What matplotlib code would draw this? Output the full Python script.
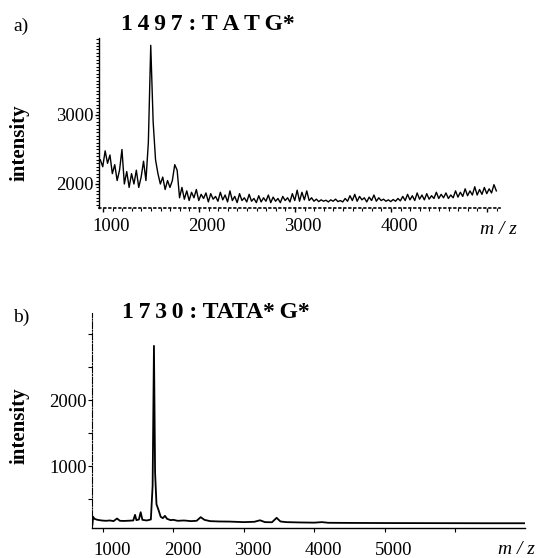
import numpy as np
import matplotlib
matplotlib.use("Agg")
import matplotlib.pyplot as plt
from matplotlib.ticker import MultipleLocator
from matplotlib.transforms import ScaledTranslation

plt.rcParams['font.family'] = ['Liberation Serif', 'DejaVu Serif']

# === spectrum a) 1497 : TATG* (m/z grid, 25 units step) ===
mz_a = np.arange(972, 5100, 25)
int_a = [
    2350, 2250, 2480, 2300, 2420, 2150, 2280, 2050, 2200, 2500,
    2000, 2180, 1950, 2150, 2000, 2200, 1950, 2100, 2330, 2050,
    2600, 4010, 2900, 2350, 2150, 2000, 2100, 1920, 2050, 1950,
    2050, 2280, 2200, 1800, 1950, 1780, 1900, 1760, 1880, 1800,
    1920, 1760, 1850, 1790, 1870, 1740, 1860, 1780, 1820, 1750,
    1880, 1770, 1840, 1740, 1900, 1760, 1820, 1730, 1860, 1760,
    1800, 1740, 1850, 1750, 1790, 1730, 1830, 1740, 1800, 1750,
    1840, 1730, 1810, 1750, 1790, 1730, 1820, 1760, 1800, 1740,
    1860, 1760, 1910, 1750, 1880, 1770, 1900, 1760, 1800, 1750,
    1780, 1745, 1770, 1750, 1765, 1740, 1770, 1750, 1780, 1745,
    1760, 1740, 1790, 1750, 1830, 1760, 1850, 1750, 1820, 1770,
    1800, 1740, 1810, 1760, 1840, 1750, 1800, 1760, 1780, 1750,
    1770, 1745, 1775, 1750, 1790, 1755, 1820, 1760, 1850, 1770,
    1830, 1760, 1870, 1780, 1840, 1770, 1860, 1780, 1830, 1790,
    1880, 1790, 1850, 1800, 1870, 1790, 1840, 1800, 1900, 1810,
    1880, 1820, 1930, 1830, 1900, 1840, 1960, 1840, 1920, 1850,
    1950, 1860, 1930, 1870, 1990, 1900,
]

# === spectrum b) 1730 : TATA*G* ===
mz_b = [850, 860, 880, 920, 980, 1040, 1100, 1150, 1200, 1240,
        1300, 1380, 1430, 1455, 1475, 1510, 1535, 1560, 1620, 1680,
        1705, 1724, 1740, 1760, 1790, 1820, 1850, 1880, 1910, 1960,
        2000, 2060, 2150, 2250, 2330, 2388, 2440, 2520, 2650, 2800,
        3000, 3150, 3230, 3300, 3400, 3466, 3520, 3600, 3800, 4000,
        4110, 4200, 4500, 5000, 5500, 6000, 6500, 6990]
int_b = [110, 230, 200, 185, 175, 170, 175, 165, 205, 170,
         168, 172, 175, 260, 180, 190, 300, 185, 175, 190,
         700, 2820, 900, 420, 330, 230, 210, 245, 200, 180,
         185, 170, 175, 165, 170, 225, 185, 165, 160, 158,
         150, 155, 178, 150, 148, 215, 160, 150, 145, 142,
         150, 140, 138, 136, 135, 134, 133, 133]

xticks_a = [1000, 2000, 3000, 4000, 5000]
xlabels_a = ['1000', '2000', '3000', '4000', '']
yticks_a = [2000, 3000]
xticks_b = [1000, 2000, 3000, 4000, 5000, 6000]
xlabels_b = ['1000', '2000', '3000', '4000', '5000', '']
yticks_b = [1000, 2000]

W, H = 539, 558
fig = plt.figure(figsize=(W / 100, H / 100), dpi=100)


def px_rect(left, top, right, bottom):
    return [left / W, 1 - bottom / H, (right - left) / W, (bottom - top) / H]


def shift_xlabels(ax, dx):
    off = ScaledTranslation(dx / 100, 0, fig.dpi_scale_trans)
    for lab in ax.get_xticklabels():
        lab.set_transform(lab.get_transform() + off)


# --- panel a ---
ax1 = fig.add_axes(px_rect(99, 38, 500, 208))
ax1.plot(mz_a, int_a, color='black', lw=1.0)
ax1.set_xlim(958, 5135)
ax1.set_ylim(1652, 4116)
for s in ['top', 'right']:
    ax1.spines[s].set_visible(False)
ax1.spines['bottom'].set_linestyle((0, (1, 2)))
ax1.spines['bottom'].set_linewidth(1.2)
ax1.spines['left'].set_linewidth(1.0)
ax1.set_xticks(xticks_a)
ax1.set_xticklabels(xlabels_a)
ax1.xaxis.set_minor_locator(MultipleLocator(100))
ax1.set_yticks(yticks_a)
ax1.yaxis.set_minor_locator(MultipleLocator(50))
ax1.tick_params(axis='both', which='major', direction='out', length=3,
                width=1, labelsize=13.5)
ax1.tick_params(axis='both', which='minor', direction='out', length=2, width=0.8)
ax1.tick_params(axis='x', pad=4)
ax1.tick_params(axis='y', pad=1)
shift_xlabels(ax1, 8)

# --- panel b ---
ax2 = fig.add_axes(px_rect(92, 313, 525, 528))
ax2.plot(mz_b, int_b, color='black', lw=1.3)
ax2.set_xlim(844, 6994)
ax2.set_ylim(61, 3318)
for s in ['top', 'right']:
    ax2.spines[s].set_visible(False)
ax2.spines['left'].set_linestyle((0, (6, 1.5, 1, 1.5)))
ax2.spines['left'].set_linewidth(0.8)
ax2.spines['bottom'].set_linewidth(1.0)
ax2.set_xticks(xticks_b)
ax2.set_xticklabels(xlabels_b)
ax2.set_yticks(yticks_b)
ax2.yaxis.set_minor_locator(MultipleLocator(500))
ax2.tick_params(axis='both', which='major', direction='out', length=3,
                width=0.8, labelsize=13.5)
ax2.tick_params(axis='both', which='minor', direction='out', length=3, width=0.8)
ax2.tick_params(axis='x', pad=7)
ax2.tick_params(axis='y', pad=1)
shift_xlabels(ax2, 9)

# --- texts ---
ts = '\u2009'
fig.text(13 / W, 1 - 26 / H, 'a)', fontsize=14, va='center', ha='left')
fig.text(208 / W, 1 - 25 / H, ts.join('1497') + ' : ' + ts.join('TATG') + '*',
         fontsize=17, fontweight='bold', va='center', ha='center')
fig.text(20 / W, 1 - 143 / H, 'intensity', fontsize=15, fontweight='bold',
         rotation=90, va='center', ha='center')
fig.text(498 / W, 1 - 230 / H, 'm / z', fontsize=14, style='italic',
         va='center', ha='center')

fig.text(13 / W, 1 - 317 / H, 'b)', fontsize=14, va='center', ha='left')
fig.text(216 / W, 1 - 312 / H, ts.join('1730') + ' : TATA*' + ts + 'G*',
         fontsize=17, fontweight='bold', va='center', ha='center')
fig.text(20 / W, 1 - 426 / H, 'intensity', fontsize=15, fontweight='bold',
         rotation=90, va='center', ha='center')
fig.text(516 / W, 1 - 549 / H, 'm / z', fontsize=14, style='italic',
         va='center', ha='center')

fig.savefig('out.png', dpi=100)
